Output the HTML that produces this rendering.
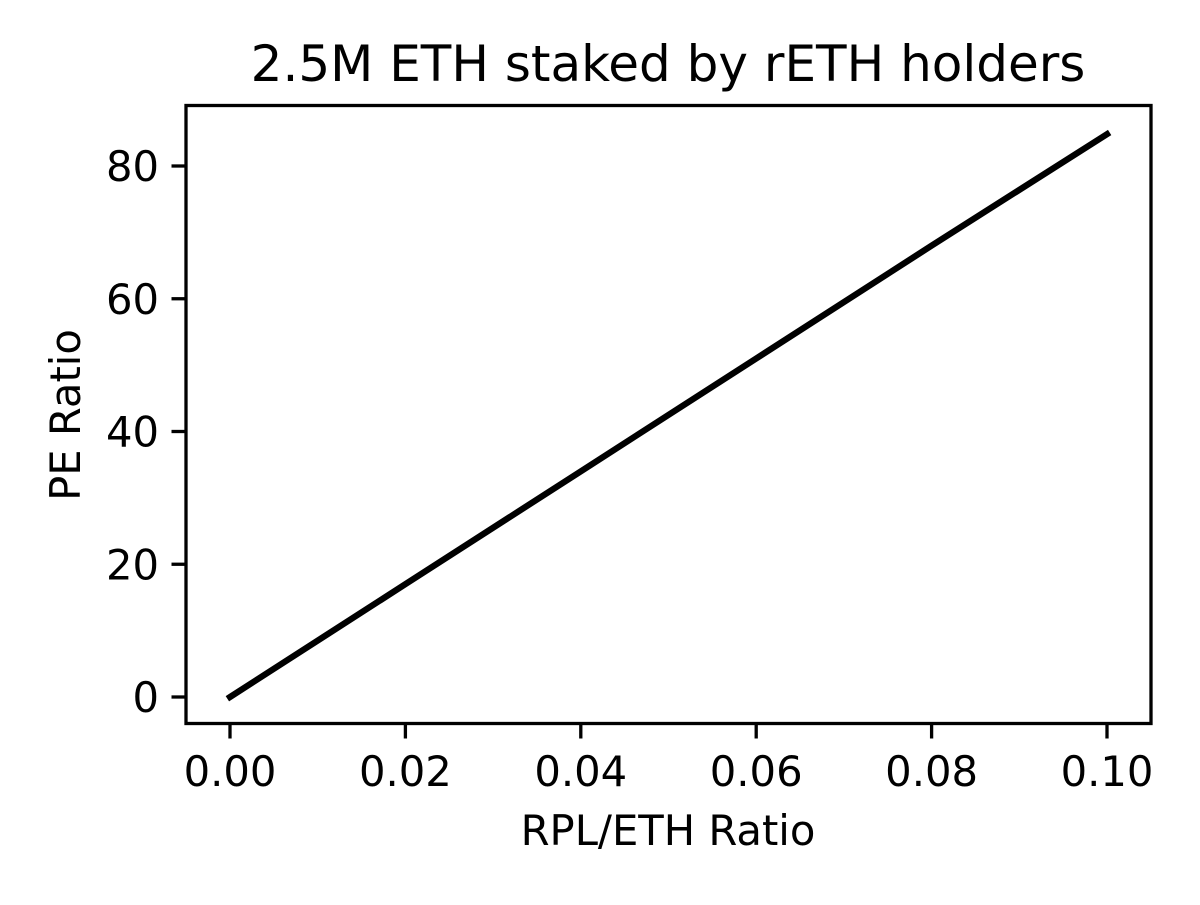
<!DOCTYPE html>
<html><head><meta charset="utf-8"><style>
body{margin:0;background:#fff}
svg text{font-family:"DejaVu Sans","Liberation Sans",sans-serif;fill:#000}
</style></head><body>
<svg id="chart" width="1200" height="900">
<rect x="0" y="0" width="1200" height="900" fill="#fff"/>
<text x="668" y="81" font-size="50" text-anchor="middle">2.5M ETH staked by rETH holders</text>
<g id="ticks"></g>
<polyline id="line" fill="none" stroke="#000" stroke-width="6.25" stroke-linecap="square"/>
<rect x="186" y="105.5" width="965" height="618" fill="none" stroke="#000" stroke-width="3.3"/>
<text x="668" y="845" font-size="41.7" text-anchor="middle">RPL/ETH Ratio</text>
<text transform="translate(80,415) rotate(-90)" font-size="41.7" text-anchor="middle">PE Ratio</text>
</svg>
<script>
const xValues=[0,0.02,0.04,0.06,0.08,0.10];
const yValues=[0,17,34,51,68,84.8];
const xTicks=[0,0.02,0.04,0.06,0.08,0.10];
const xTickLabels=["0.00","0.02","0.04","0.06","0.08","0.10"];
const yTicks=[0,20,40,60,80];
const yTickLabels=["0","20","40","60","80"];
const sx=v=>230+v*8770;
const sy=v=>697-v*6.6375;
const NS="http://www.w3.org/2000/svg";
const g=document.getElementById('ticks');
function mk(t,a){const e=document.createElementNS(NS,t);for(const k in a)e.setAttribute(k,a[k]);g.appendChild(e);return e;}
xTicks.forEach((v,i)=>{
 const l=mk('line',{x1:sx(v),x2:sx(v),y1:724,y2:738.5,stroke:'#000','stroke-width':3.3});
 
 
 const t=mk('text',{x:sx(v),y:786,'font-size':41.7,'text-anchor':'middle'});
 t.textContent=xTickLabels[i];
 
 
});
yTicks.forEach((v,i)=>{
 const l=mk('line',{x1:171.5,x2:186,y1:sy(v),y2:sy(v),stroke:'#000','stroke-width':3.3});
 
 
 const t=mk('text',{x:159,y:sy(v)+15,'font-size':41.7,'text-anchor':'end'});
 t.textContent=yTickLabels[i];
 
 
});
document.getElementById('line').setAttribute('points',xValues.map((x,i)=>sx(x)+','+sy(yValues[i])).join(' '));
</script>
</body></html>
